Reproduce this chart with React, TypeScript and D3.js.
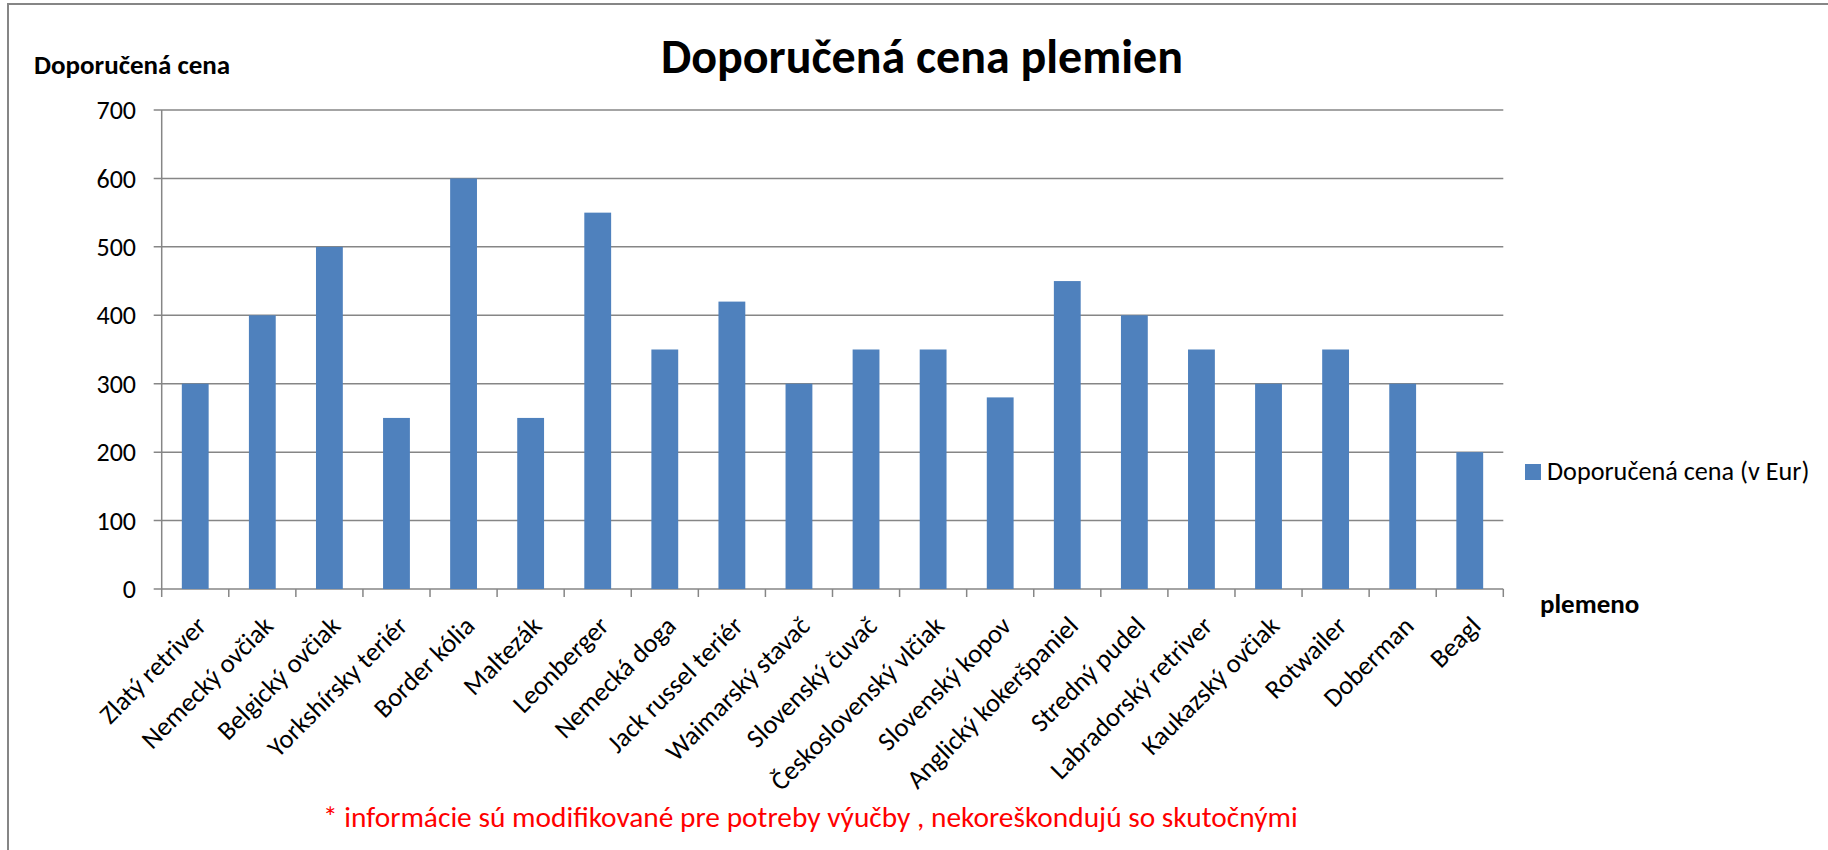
import React, { useRef, useEffect } from "react";
import * as d3 from "d3";

// breeds on the x axis
const breeds = [
  "Zlatý retriver",
  "Nemecký ovčiak",
  "Belgický ovčiak",
  "Yorkshírsky teriér",
  "Border kólia",
  "Maltezák",
  "Leonberger",
  "Nemecká doga",
  "Jack russel teriér",
  "Waimarský stavač",
  "Slovenský čuvač",
  "Československý vlčiak",
  "Slovenský kopov",
  "Anglický kokeršpaniel",
  "Stredný pudel",
  "Labradorský retriver",
  "Kaukazský ovčiak",
  "Rotwailer",
  "Doberman",
  "Beagl",
];

// recommended price (EUR)
const prices = [300, 400, 500, 250, 600, 250, 550, 350, 420, 300, 350, 350, 280, 450, 400, 350, 300, 350, 300, 200];

const yTicks = [0, 100, 200, 300, 400, 500, 600, 700];

const title = "Doporučená cena plemien";
const yTitle = "Doporučená cena";
const xTitle = "plemeno";
const seriesName = "Doporučená cena (v Eur)";
const footnote = "* informácie sú modifikované pre potreby výučby , nekoreškondujú so skutočnými";

const App = () => {
  const svgRef = useRef(null);
  const W = 1828;
  const H = 850;
  const font = "Carlito, Calibri, Lato, 'Open Sans', sans-serif";

  useEffect(() => {
    const svg = d3.select(svgRef.current);
    svg.selectAll("*").remove();

    const left = 161.7, right = 1503.3, top = 110, bottom = 589;
    const grid = "#868686";
    const barColor = "#4F81BD";

    const x = d3.scaleBand().domain(breeds).range([left, right]).padding(0);
    const y = d3.scaleLinear().domain([0, 700]).range([bottom, top]);

    // outer chart border (top and left visible)
    svg.append("path")
      .attr("d", `M8,${H} L8,4 L${W},4`)
      .attr("fill", "none")
      .attr("stroke", grid)
      .attr("stroke-width", 2);

    // gridlines
    svg.append("g")
      .selectAll("line")
      .data(yTicks)
      .join("line")
      .attr("x1", left - 8)
      .attr("x2", right)
      .attr("y1", d => y(d))
      .attr("y2", d => y(d))
      .attr("stroke", grid)
      .attr("stroke-width", 1.5);

    // y axis line
    svg.append("line")
      .attr("x1", left).attr("x2", left)
      .attr("y1", top).attr("y2", bottom)
      .attr("stroke", grid).attr("stroke-width", 1.5);

    // y tick labels
    svg.append("g")
      .selectAll("text")
      .data(yTicks)
      .join("text")
      .attr("x", 136)
      .attr("y", d => y(d))
      .attr("dy", "0.35em")
      .attr("text-anchor", "end")
      .attr("font-family", font)
      .attr("font-size", 26)
      .attr("fill", "#000")
      .text(d => d);

    // x ticks at category boundaries
    const bounds = breeds.map(b => x(b)).concat([right]);
    svg.append("g")
      .selectAll("line")
      .data(bounds)
      .join("line")
      .attr("x1", d => d).attr("x2", d => d)
      .attr("y1", bottom).attr("y2", bottom + 8)
      .attr("stroke", grid).attr("stroke-width", 1.5);

    // bars
    const bw = x.bandwidth() * 0.4;
    svg.append("g")
      .selectAll("rect")
      .data(prices)
      .join("rect")
      .attr("x", (d, i) => x(breeds[i]) + x.bandwidth() / 2 - bw / 2)
      .attr("y", d => y(d))
      .attr("width", bw)
      .attr("height", d => bottom - y(d))
      .attr("fill", barColor);

    // category labels
    svg.append("g")
      .selectAll("text")
      .data(breeds)
      .join("text")
      .attr("transform", d => `translate(${x(d) + x.bandwidth() / 2 + 6},${bottom + 32}) rotate(-45)`)
      .attr("text-anchor", "end")
      .attr("dy", "0.35em")
      .attr("font-family", font)
      .attr("font-size", 26.5)
      .attr("fill", "#000")
      .text(d => d);

    // title
    svg.append("text")
      .attr("x", 922).attr("y", 73)
      .attr("text-anchor", "middle")
      .attr("font-family", font)
      .attr("font-weight", "bold")
      .attr("font-size", 48)
      .text(title);

    // y axis title
    svg.append("text")
      .attr("x", 34).attr("y", 74)
      .attr("font-family", font)
      .attr("font-weight", "bold")
      .attr("font-size", 27)
      .text(yTitle);

    // x axis title
    svg.append("text")
      .attr("x", 1540).attr("y", 613)
      .attr("font-family", font)
      .attr("font-weight", "bold")
      .attr("font-size", 27)
      .text(xTitle);

    // legend
    svg.append("rect")
      .attr("x", 1525).attr("y", 464)
      .attr("width", 16).attr("height", 16)
      .attr("fill", barColor);
    svg.append("text")
      .attr("x", 1547).attr("y", 480)
      .attr("font-family", font)
      .attr("font-size", 26.2)
      .text(seriesName);

    // footnote
    svg.append("text")
      .attr("x", 323).attr("y", 827)
      .attr("font-family", font)
      .attr("font-size", 29.4)
      .attr("fill", "#FF0000")
      .text(footnote);
  });

  return (
    <div style={{ position: "absolute", left: 0, top: 0 }}>
      <svg ref={svgRef} width={W} height={H} style={{ display: "block", background: "#fff" }}></svg>
    </div>
  );
};

export default App;
